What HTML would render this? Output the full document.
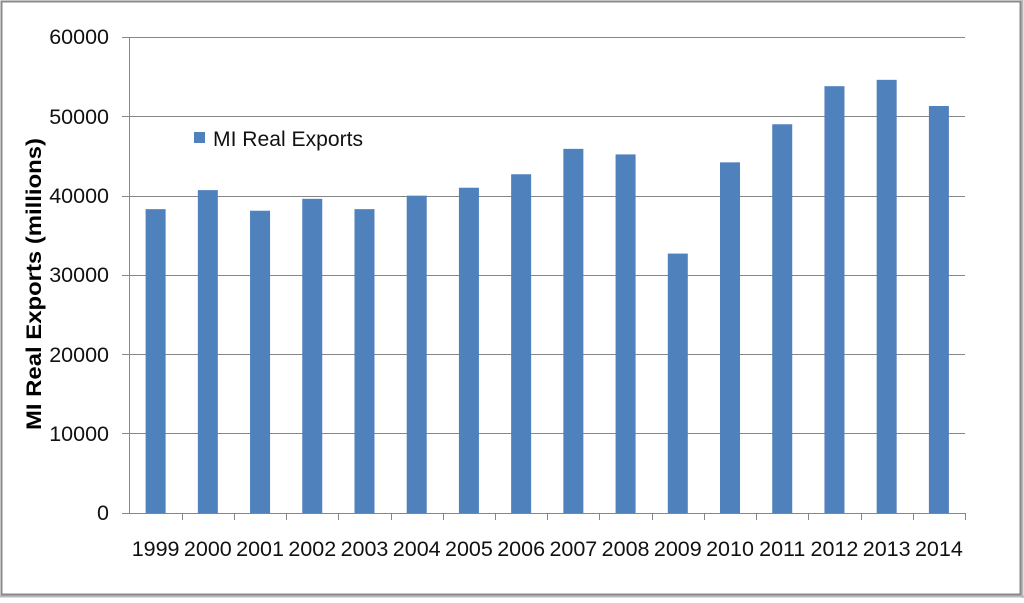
<!DOCTYPE html>
<html><head><style>body{margin:0;background:#fff}</style></head><body>
<svg width="1024" height="598" xmlns="http://www.w3.org/2000/svg" font-family="Liberation Sans, sans-serif">
<rect x="0" y="0" width="1024" height="598" fill="#fff"/>
<rect x="1.5" y="1.5" width="1019" height="593" fill="none" stroke="#8a8a8a" stroke-width="2"/>
<line x1="0" y1="596.5" x2="1024" y2="596.5" stroke="#bbb" stroke-width="2"/>
<line x1="1022.5" y1="0" x2="1022.5" y2="598" stroke="#bbb" stroke-width="2"/>
<g stroke="#868686" stroke-width="1">
<line x1="122" y1="37.5" x2="965" y2="37.5"/>
<line x1="122" y1="116.5" x2="965" y2="116.5"/>
<line x1="122" y1="196.5" x2="965" y2="196.5"/>
<line x1="122" y1="275.5" x2="965" y2="275.5"/>
<line x1="122" y1="354.5" x2="965" y2="354.5"/>
<line x1="122" y1="433.5" x2="965" y2="433.5"/>
<line x1="122" y1="513.5" x2="965" y2="513.5"/>
<line x1="129.5" y1="37" x2="129.5" y2="513"/>
</g>
<g id="bars" fill="#4f81bd"></g>
<g id="ticks" stroke="#868686"></g>
<g font-size="21.5" fill="#111" text-anchor="end">
<text x="109" y="44">60000</text><text x="109" y="124">50000</text><text x="109" y="203">40000</text>
<text x="109" y="282">30000</text><text x="109" y="362">20000</text><text x="109" y="441">10000</text><text x="109" y="520">0</text>
</g>
<g id="xl" font-size="21.5" fill="#111" text-anchor="middle"></g>
<text transform="translate(41,284) rotate(-90)" font-size="21" font-weight="bold" text-anchor="middle" textLength="292" lengthAdjust="spacingAndGlyphs">MI Real Exports (millions)</text>
<rect x="194" y="132" width="11" height="11" fill="#4f81bd"/>
<text x="213" y="146" font-size="21" textLength="150" lengthAdjust="spacingAndGlyphs" fill="#111">MI Real Exports</text>
<script>
var v=[38300,40700,38100,39600,38300,40000,41000,42700,45900,45200,32700,44200,49000,53800,54600,51300];
var ns="http://www.w3.org/2000/svg",w=(965-129.5)/16,b=document.getElementById('bars'),t=document.getElementById('ticks'),xl=document.getElementById('xl');
v.forEach(function(d,i){var c=129.5+w*(i+0.5),h=d/60000*476;
var r=document.createElementNS(ns,'rect');r.setAttribute('x',c-10);r.setAttribute('y',513-h);r.setAttribute('width',20);r.setAttribute('height',h);b.appendChild(r);
var l=document.createElementNS(ns,'line');var xx=Math.round(129.5+w*(i+1))+0.5;l.setAttribute('x1',xx);l.setAttribute('x2',xx);l.setAttribute('y1',513);l.setAttribute('y2',520);t.appendChild(l);
var tx=document.createElementNS(ns,'text');tx.setAttribute('x',c);tx.setAttribute('y',556);tx.textContent=1999+i;xl.appendChild(tx);});
</script>
</svg>
</body></html>
